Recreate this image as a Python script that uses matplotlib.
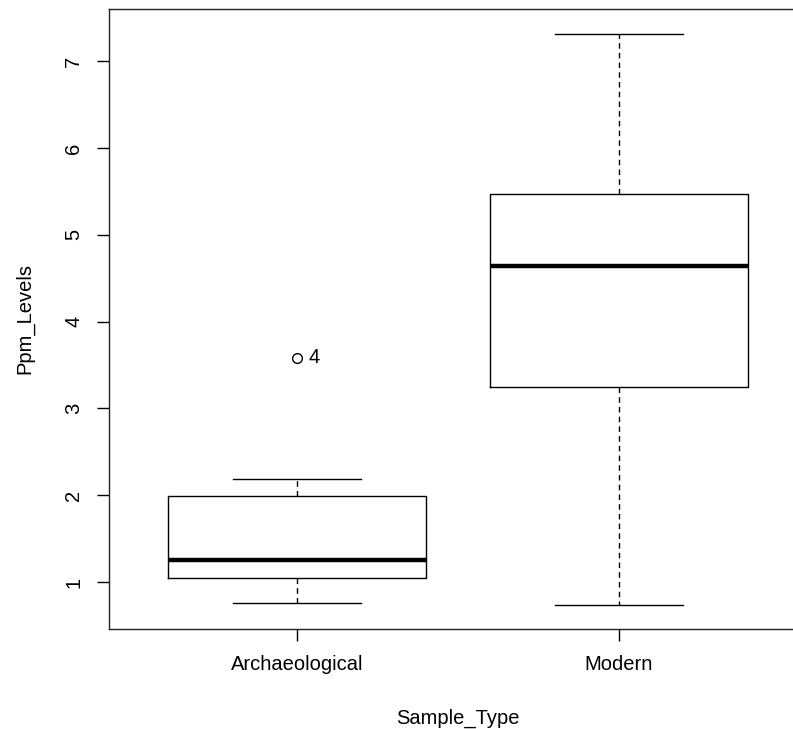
import numpy as np
import matplotlib
matplotlib.use("Agg")
import matplotlib.pyplot as plt

plt.rcParams['font.family'] = ['Liberation Sans', 'DejaVu Sans']

groups = ["Archaeological", "Modern"]
whisker_low = [0.76, 0.735]
q1 = [1.045, 3.25]
median = [1.255, 4.645]
q3 = [1.99, 5.47]
whisker_high = [2.185, 7.31]
outliers = [[3.585], []]
outlier_ids = [["4"], []]

stats = []
for i, name in enumerate(groups):
    stats.append({"label": name, "whislo": whisker_low[i], "q1": q1[i], "med": median[i],
                  "q3": q3[i], "whishi": whisker_high[i], "fliers": outliers[i]})

fig = plt.figure(figsize=(7.93, 7.29), dpi=100)
ax = fig.add_axes([109/793, 1 - 629/729, 698/793, 620/729])

ax.bxp(stats, positions=[1, 2], widths=0.8, capwidths=0.4,
       boxprops=dict(color="black", linewidth=1),
       medianprops=dict(color="black", linewidth=3.2, solid_capstyle="butt"),
       whiskerprops=dict(color="black", linewidth=1, linestyle=(0, (4, 3))),
       capprops=dict(color="black", linewidth=1),
       flierprops=dict(marker="o", markerfacecolor="none", markeredgecolor="black",
                       markersize=7, markeredgewidth=1))

for i, ids in enumerate(outlier_ids):
    for val, lab in zip(outliers[i], ids):
        ax.annotate(lab, xy=(i + 1, val), xytext=(8, 0), textcoords="offset points",
                    ha="left", va="center", fontsize=14.5)

ax.set_xlim(0.416, 2.584)
ax.set_ylim(0.459, 7.6)
ax.set_yticks(np.arange(1, 8))
ax.set_yticklabels([str(v) for v in range(1, 8)], rotation=90, va="center")
ax.tick_params(axis="both", length=8.6, width=1, labelsize=14.5, pad=10)

for s in ax.spines.values():
    s.set_linewidth(1)
    s.set_color("#222222")

ax.set_xlabel("Sample_Type", fontsize=14.5, va="center")
ax.xaxis.set_label_coords(0.5, -0.1435)
ax.set_ylabel("Ppm_Levels", fontsize=14.5, va="center")
ax.yaxis.set_label_coords(-0.1203, 0.5)

fig.savefig("out.png", dpi=100)
